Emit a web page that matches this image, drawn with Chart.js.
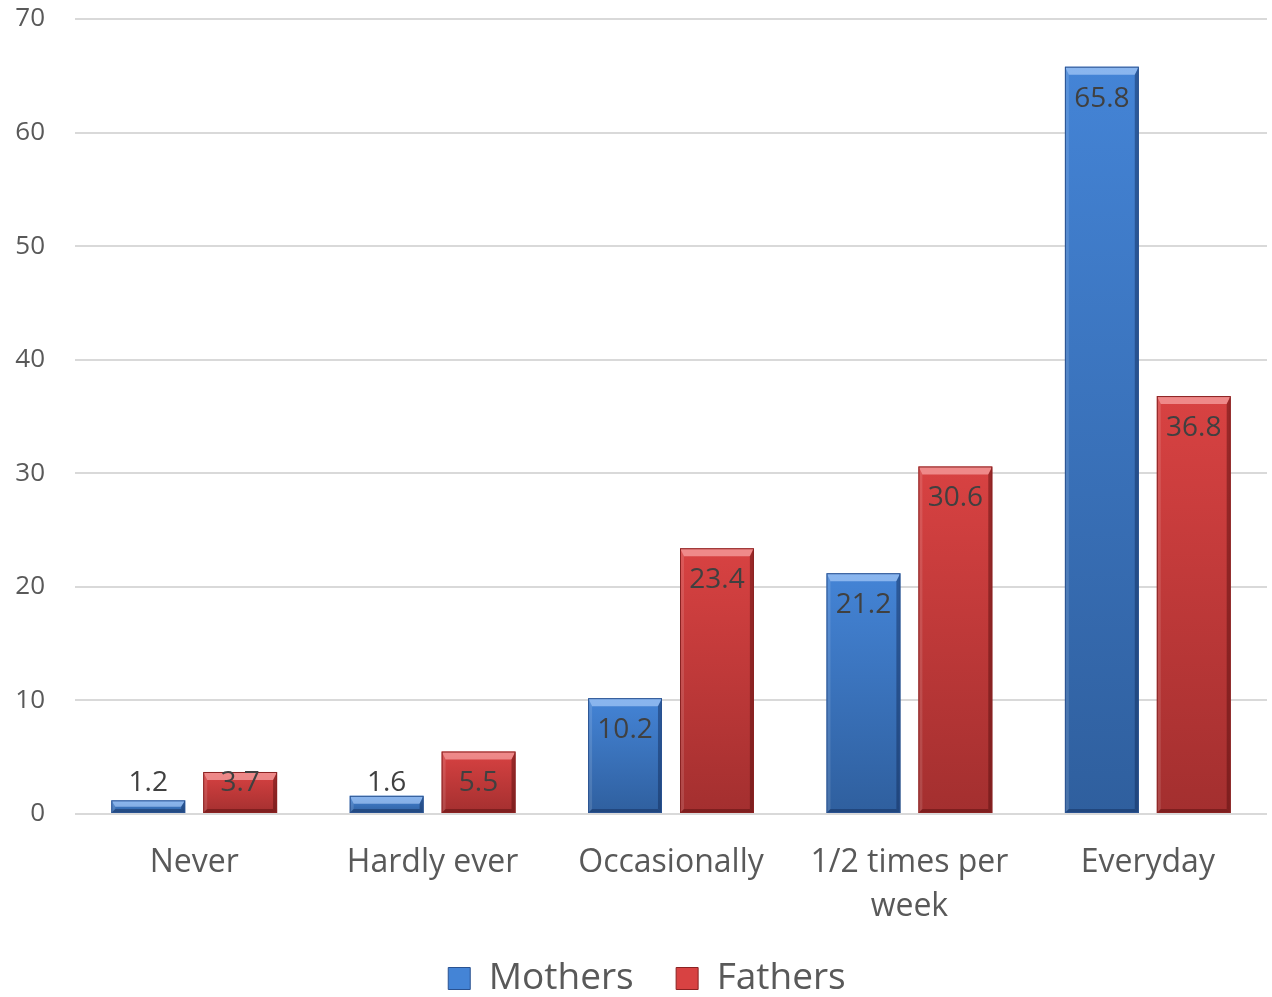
<!DOCTYPE html>
<html>
<head>
<meta charset="utf-8">
<script src="https://cdn.jsdelivr.net/npm/chart.js@4.4.1/dist/chart.umd.min.js"></script>
<style>
  html, body { margin: 0; padding: 0; background: #fff; }
  #wrap { width: 1272px; height: 997px; position: relative; }
</style>
</head>
<body>
<div id="wrap"><canvas id="chart"></canvas></div>
<script>
// Frequency answers, % of mothers vs fathers
const categories = ['Never', 'Hardly ever', 'Occasionally', ['1/2 times per', 'week'], 'Everyday'];
const mothers = [1.2, 1.6, 10.2, 21.2, 65.8];
const fathers = [3.7, 5.5, 23.4, 30.6, 36.8];
const yTicks  = [0, 10, 20, 30, 40, 50, 60, 70];

const FONT = '"Open Sans", "Noto Sans", sans-serif';

const palette = {
  blue: { top: '#4484d6', bottom: '#2f5f9e', light: 'rgba(185,215,255,0.6)', dark: 'rgba(15,40,85,0.45)', line: '#2a5290' },
  red:  { top: '#d84242', bottom: '#a32f2f', light: 'rgba(255,185,185,0.6)', dark: 'rgba(80,10,10,0.45)', line: '#8a2222' }
};

// vertical gradient per bar, from its top to the baseline
function barFill(pal) {
  return ctx => {
    const chart = ctx.chart;
    const y = chart.scales.y;
    if (!chart.chartArea || !y || ctx.raw == null) return pal.top;
    const top = y.getPixelForValue(ctx.raw);
    const base = y.getPixelForValue(0);
    const g = chart.ctx.createLinearGradient(0, top, 0, Math.max(base, top + 1));
    g.addColorStop(0, pal.top);
    g.addColorStop(1, pal.bottom);
    return g;
  };
}

// bevelled edges drawn over each bar
const bevel = {
  id: 'bevel',
  afterDatasetsDraw(chart) {
    const ctx = chart.ctx;
    chart.data.datasets.forEach((ds, i) => {
      const pal = ds._pal;
      chart.getDatasetMeta(i).data.forEach(bar => {
        const x0 = bar.x - bar.width / 2, x1 = bar.x + bar.width / 2;
        const y0 = bar.y, y1 = bar.base;
        const h = y1 - y0;
        const bt = Math.min(8, h / 2);   // top face depth
        const bs = Math.min(4, h / 2);   // sides and bottom
        ctx.save();
        ctx.fillStyle = pal.light;
        ctx.beginPath();
        ctx.moveTo(x0, y0); ctx.lineTo(x1, y0); ctx.lineTo(x1 - bs, y0 + bt); ctx.lineTo(x0 + bs, y0 + bt);
        ctx.closePath(); ctx.fill();
        ctx.fillStyle = 'rgba(255,255,255,0.12)';
        ctx.beginPath();
        ctx.moveTo(x0, y0); ctx.lineTo(x0 + bs, y0 + bt); ctx.lineTo(x0 + bs, y1 - bs); ctx.lineTo(x0, y1);
        ctx.closePath(); ctx.fill();
        ctx.fillStyle = pal.dark;
        ctx.beginPath();
        ctx.moveTo(x1, y0); ctx.lineTo(x1 - bs, y0 + bt); ctx.lineTo(x1 - bs, y1 - bs); ctx.lineTo(x1, y1);
        ctx.closePath(); ctx.fill();
        ctx.beginPath();
        ctx.moveTo(x0, y1); ctx.lineTo(x0 + bs, y1 - bs); ctx.lineTo(x1 - bs, y1 - bs); ctx.lineTo(x1, y1);
        ctx.closePath(); ctx.fill();
        ctx.strokeStyle = pal.line;
        ctx.lineWidth = 1;
        ctx.strokeRect(x0 + 0.5, y0 + 0.5, bar.width - 1, h - 1);
        ctx.restore();
      });
    });
  }
};

// value labels just inside the bar top, kept above the baseline for short bars
const valueLabels = {
  id: 'valueLabels',
  afterDatasetsDraw(chart) {
    const ctx = chart.ctx;
    ctx.save();
    ctx.font = '28px ' + FONT;
    ctx.fillStyle = '#404040';
    ctx.textAlign = 'center';
    ctx.textBaseline = 'middle';
    chart.data.datasets.forEach((ds, i) => {
      chart.getDatasetMeta(i).data.forEach((bar, j) => {
        const y = Math.min(bar.y + 32, bar.base - 30);
        ctx.fillText(ds.data[j].toFixed(1), bar.x, y);
      });
    });
    ctx.restore();
  }
};

new Chart(document.getElementById('chart'), {
  type: 'bar',
  data: {
    labels: categories,
    datasets: [
      { label: 'Mothers', data: mothers, backgroundColor: barFill(palette.blue), _pal: palette.blue,
        borderWidth: 0, categoryPercentage: 0.771, barPercentage: 0.804 },
      { label: 'Fathers', data: fathers, backgroundColor: barFill(palette.red), _pal: palette.red,
        borderWidth: 0, categoryPercentage: 0.771, barPercentage: 0.804 }
    ]
  },
  options: {
    responsive: true,
    maintainAspectRatio: false,
    animation: false,
    layout: { padding: { top: 19, right: 5, left: 0, bottom: -10 } },
    plugins: {
      tooltip: { enabled: false },
      legend: {
        position: 'bottom',
        fullSize: false,
        labels: {
          color: '#595959',
          font: { family: FONT, size: 37, lineHeight: 1 },
          boxWidth: 22,
          boxHeight: 22,
          padding: 4,
          generateLabels(chart) {
            return chart.data.datasets.map((ds, i) => ({
              // trailing spaces set the gap between entries and nudge the row left
              text: ds.label + '    ' + (i === 1 ? ' ' : ''),
              fillStyle: ds._pal.top,
              strokeStyle: ds._pal.line,
              lineWidth: 1,
              fontColor: '#595959',
              datasetIndex: i
            }));
          }
        }
      }
    },
    scales: {
      x: {
        grid: { display: false, drawTicks: false },
        border: { display: false },
        afterFit(scale) { scale.height = 142; },
        ticks: { color: '#595959', font: { family: FONT, size: 32, lineHeight: 1.4 }, padding: 26, maxRotation: 0, autoSkip: false }
      },
      y: {
        min: 0,
        max: 70,
        afterBuildTicks(scale) { scale.ticks = yTicks.map(v => ({ value: v })); },
        afterFit(scale) { scale.width = 75; scale.paddingTop = 0; scale.paddingBottom = 0; },
        grid: { color: '#d9d9d9', lineWidth: 2, drawTicks: false },
        border: { display: false },
        ticks: { color: '#595959', font: { family: FONT, size: 26 }, padding: 30 }
      }
    }
  },
  plugins: [bevel, valueLabels]
});
</script>
</body>
</html>
